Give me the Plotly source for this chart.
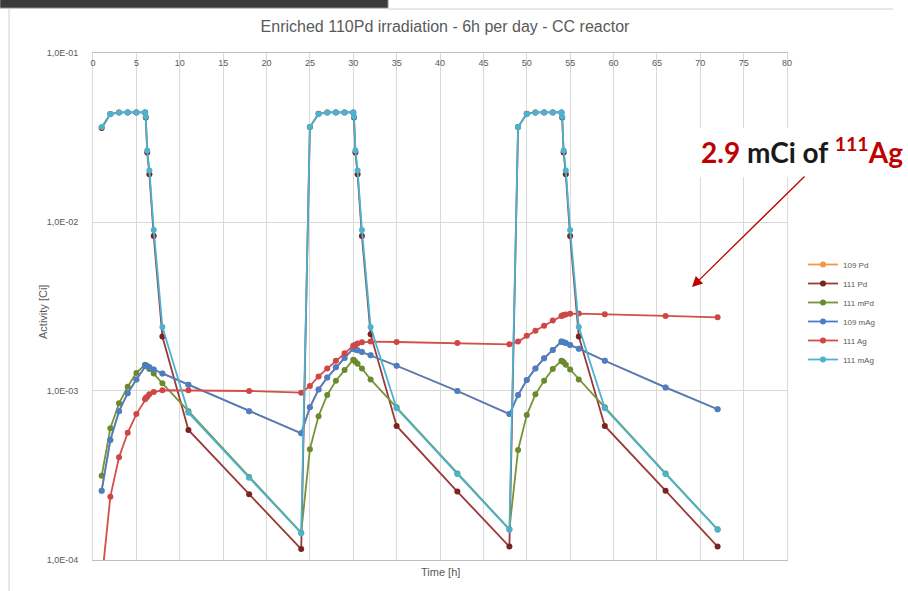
import plotly.graph_objects as go

# ---- data ----
time_h = [1, 2, 3, 4, 5, 6, 6.083, 6.25, 6.5, 7, 8, 11, 18, 24,
          25, 26, 27, 28, 29, 30, 30.083, 30.25, 30.5, 31, 32, 35, 42, 48,
          49, 50, 51, 52, 53, 54, 54.083, 54.25, 54.5, 55, 56, 59, 66, 72]

pd109 = [2.57e-4, 5.13e-4, 7.6e-4, 9.7e-4, 1.17e-3, 1.41e-3, 1.41e-3, 1.40e-3, 1.38e-3, 1.34e-3, 1.27e-3, 1.09e-3, 7.6e-4, 5.62e-4,
         8.0e-4, 1.02e-3, 1.2e-3, 1.38e-3, 1.57e-3, 1.78e-3, 1.78e-3, 1.76e-3, 1.74e-3, 1.70e-3, 1.63e-3, 1.41e-3, 1.0e-3, 7.3e-4,
         9.46e-4, 1.16e-3, 1.36e-3, 1.56e-3, 1.75e-3, 1.96e-3, 1.95e-3, 1.94e-3, 1.92e-3, 1.87e-3, 1.78e-3, 1.51e-3, 1.05e-3, 7.8e-4]

pd111 = [0.036, 0.0435, 0.0445, 0.0445, 0.0445, 0.0445, 0.0415, 0.0258, 0.0192, 0.00826, 0.0021, 5.88e-4, 2.45e-4, 1.16e-4,
         0.0365, 0.0437, 0.0445, 0.0445, 0.0445, 0.0445, 0.0415, 0.0258, 0.0192, 0.00826, 0.00217, 6.21e-4, 2.54e-4, 1.2e-4,
         0.0365, 0.0437, 0.0445, 0.0445, 0.0445, 0.0445, 0.0415, 0.0258, 0.0192, 0.00826, 0.0021, 6.21e-4, 2.57e-4, 1.2e-4]

pd111m = [3.15e-4, 6.02e-4, 8.45e-4, 1.06e-3, 1.28e-3, 1.43e-3, 1.42e-3, 1.40e-3, 1.35e-3, 1.27e-3, 1.11e-3, 7.6e-4, 3.1e-4, 1.45e-4,
          4.52e-4, 7.1e-4, 9.47e-4, 1.15e-3, 1.33e-3, 1.53e-3, 1.52e-3, 1.49e-3, 1.45e-3, 1.36e-3, 1.17e-3, 8.0e-4, 3.25e-4, 1.52e-4,
          4.48e-4, 7.2e-4, 9.56e-4, 1.15e-3, 1.35e-3, 1.51e-3, 1.50e-3, 1.48e-3, 1.43e-3, 1.34e-3, 1.17e-3, 8.0e-4, 3.25e-4, 1.52e-4]

ag109m = [2.57e-4, 5.13e-4, 7.6e-4, 9.7e-4, 1.17e-3, 1.41e-3, 1.41e-3, 1.40e-3, 1.38e-3, 1.34e-3, 1.27e-3, 1.09e-3, 7.6e-4, 5.62e-4,
          8.0e-4, 1.02e-3, 1.2e-3, 1.38e-3, 1.57e-3, 1.78e-3, 1.78e-3, 1.76e-3, 1.74e-3, 1.70e-3, 1.63e-3, 1.41e-3, 1.0e-3, 7.3e-4,
          9.46e-4, 1.16e-3, 1.36e-3, 1.56e-3, 1.75e-3, 1.96e-3, 1.95e-3, 1.94e-3, 1.92e-3, 1.87e-3, 1.78e-3, 1.51e-3, 1.05e-3, 7.8e-4]

ag111 = [7.5e-5, 2.37e-4, 4.05e-4, 5.66e-4, 7.3e-4, 8.93e-4, 9.1e-4, 9.25e-4, 9.55e-4, 9.86e-4, 1.01e-3, 1.01e-3, 1.0e-3, 9.78e-4,
         1.07e-3, 1.22e-3, 1.36e-3, 1.51e-3, 1.67e-3, 1.85e-3, 1.86e-3, 1.88e-3, 1.91e-3, 1.94e-3, 1.96e-3, 1.95e-3, 1.92e-3, 1.89e-3,
         1.96e-3, 2.12e-3, 2.27e-3, 2.43e-3, 2.61e-3, 2.78e-3, 2.80e-3, 2.82e-3, 2.84e-3, 2.86e-3, 2.87e-3, 2.85e-3, 2.78e-3, 2.73e-3]

ag111m = [0.0365, 0.0435, 0.0445, 0.0446, 0.0446, 0.0446, 0.042, 0.0265, 0.0202, 0.00897, 0.00239, 7.44e-4, 3.07e-4, 1.44e-4,
          0.0365, 0.0436, 0.0445, 0.0446, 0.0446, 0.0445, 0.042, 0.0265, 0.0202, 0.00897, 0.00239, 7.9e-4, 3.23e-4, 1.51e-4,
          0.0365, 0.0436, 0.0445, 0.0446, 0.0446, 0.0445, 0.042, 0.0265, 0.0202, 0.00897, 0.00239, 7.9e-4, 3.23e-4, 1.51e-4]

series_names = ["109 Pd", "111 Pd", "111 mPd", "109 mAg", "111 Ag", "111 mAg"]
series_values = [pd109, pd111, pd111m, ag109m, ag111, ag111m]
line_colors = ["#f79646", "#9b3a38", "#77933c", "#4a7ec8", "#d24f4c", "#4bb3cf"]
marker_colors = ["#f79646", "#7a2422", "#6b8a2e", "#4a7ec8", "#cf4744", "#4bb3cf"]

y_tickvals = [1e-4, 1e-3, 1e-2, 1e-1]
y_ticktext = ["1,0E-04", "1,0E-03", "1,0E-02", "1,0E-01"]
x_tickvals = list(range(0, 85, 5))

# ---- layout geometry (pixels) ----
W, H = 908, 591
L, R, T, B = 93, 121, 53, 31
pw, ph = W - L - R, H - T - B


def px(x):
    return (x - L) / pw


def py(y):
    return (H - B - y) / ph


fig = go.Figure()
for i, (name, vals) in enumerate(zip(series_names, series_values)):
    fig.add_trace(go.Scatter(
        x=time_h, y=vals, name=name, mode="lines+markers",
        line=dict(color=line_colors[i], width=1.8),
        marker=dict(color=marker_colors[i], size=6),
        legendgroup=name,
    ))

grid = "#d9d9d9"
tick_font = dict(family="Liberation Sans, Arial", size=9, color="#595959")

fig.update_layout(
    width=W, height=H,
    margin=dict(l=L, r=R, t=T, b=B),
    paper_bgcolor="white", plot_bgcolor="white",
    title=dict(text="Enriched 110Pd irradiation - 6h per day - CC reactor",
               x=445 / W, xref="container", xanchor="center",
               y=1 - 26 / H, yref="container", yanchor="middle",
               font=dict(family="Liberation Sans, Arial", size=16, color="#595959")),
    showlegend=True,
    legend=dict(x=px(803), xanchor="left", y=py(250), yanchor="top",
                font=dict(family="Liberation Sans, Arial", size=8, color="#595959"),
                itemwidth=30, tracegroupgap=0, bgcolor="rgba(0,0,0,0)"),
    xaxis=dict(range=[0, 80], side="top", tickvals=x_tickvals,
               ticklabelposition="inside", ticklabeloverflow="allow",
               ticklabelstandoff=6, tickfont=tick_font,
               showgrid=True, gridcolor=grid, gridwidth=1,
               showline=True, linecolor="#bfbfbf", mirror=True,
               zeroline=False, ticks=""),
    yaxis=dict(type="log", range=[-4.0001, -0.9999], tickvals=y_tickvals, ticktext=y_ticktext,
               tickfont=tick_font, showgrid=True, gridcolor=grid, gridwidth=1,
               showline=True, linecolor="#d9d9d9", mirror=True,
               ticks="outside", ticklen=12, tickcolor="rgba(0,0,0,0)", zeroline=False),
)

# axis titles
fig.add_annotation(text="Activity [Ci]", x=px(35), y=py(312), xref="paper", yref="paper",
                   textangle=-90, showarrow=False,
                   font=dict(family="Liberation Sans, Arial", size=11, color="#595959"))
fig.add_annotation(text="Time [h]", x=px(440), y=py(580), xref="paper", yref="paper",
                   showarrow=False,
                   font=dict(family="Liberation Sans, Arial", size=11, color="#595959"))

# white box behind the callout (covers the plot's top-right corner)
fig.add_shape(type="rect", xref="paper", yref="paper", layer="above",
              x0=px(672), x1=px(912), y0=py(177), y1=py(128),
              fillcolor="white", line=dict(width=0))

# callout
fig.add_annotation(
    text="<b><span style='color:#c00000'>2.9</span> mCi of "
         "<span style='color:#c00000'><sup>111</sup>Ag</span></b>",
    x=px(905), y=py(150), xref="paper", yref="paper", xanchor="right", yanchor="middle",
    showarrow=False, font=dict(family="Lato, Open Sans", size=28, color="#1a1a1a"))
fig.add_annotation(
    text="", x=px(692), y=py(287), xref="paper", yref="paper",
    ax=806 - 692, ay=175 - 287, showarrow=True,
    arrowhead=2, arrowsize=1.6, arrowwidth=1.3, arrowcolor="#c00000")

# screenshot frame decorations
fig.add_shape(type="rect", xref="paper", yref="paper",
              x0=px(0), x1=px(388), y0=py(8), y1=py(-2),
              fillcolor="#3a3a3a", line=dict(color="#8a8a8a", width=1))
fig.add_shape(type="line", xref="paper", yref="paper",
              x0=px(388), x1=px(893), y0=py(9), y1=py(9),
              line=dict(color="#d0d0d0", width=1))
fig.add_shape(type="line", xref="paper", yref="paper",
              x0=px(9), x1=px(9), y0=py(9), y1=py(595),
              line=dict(color="#d0d0d0", width=1))

fig.write_html("out.html", config={"displayModeBar": False},
               post_script="document.body.style.margin='0';")
